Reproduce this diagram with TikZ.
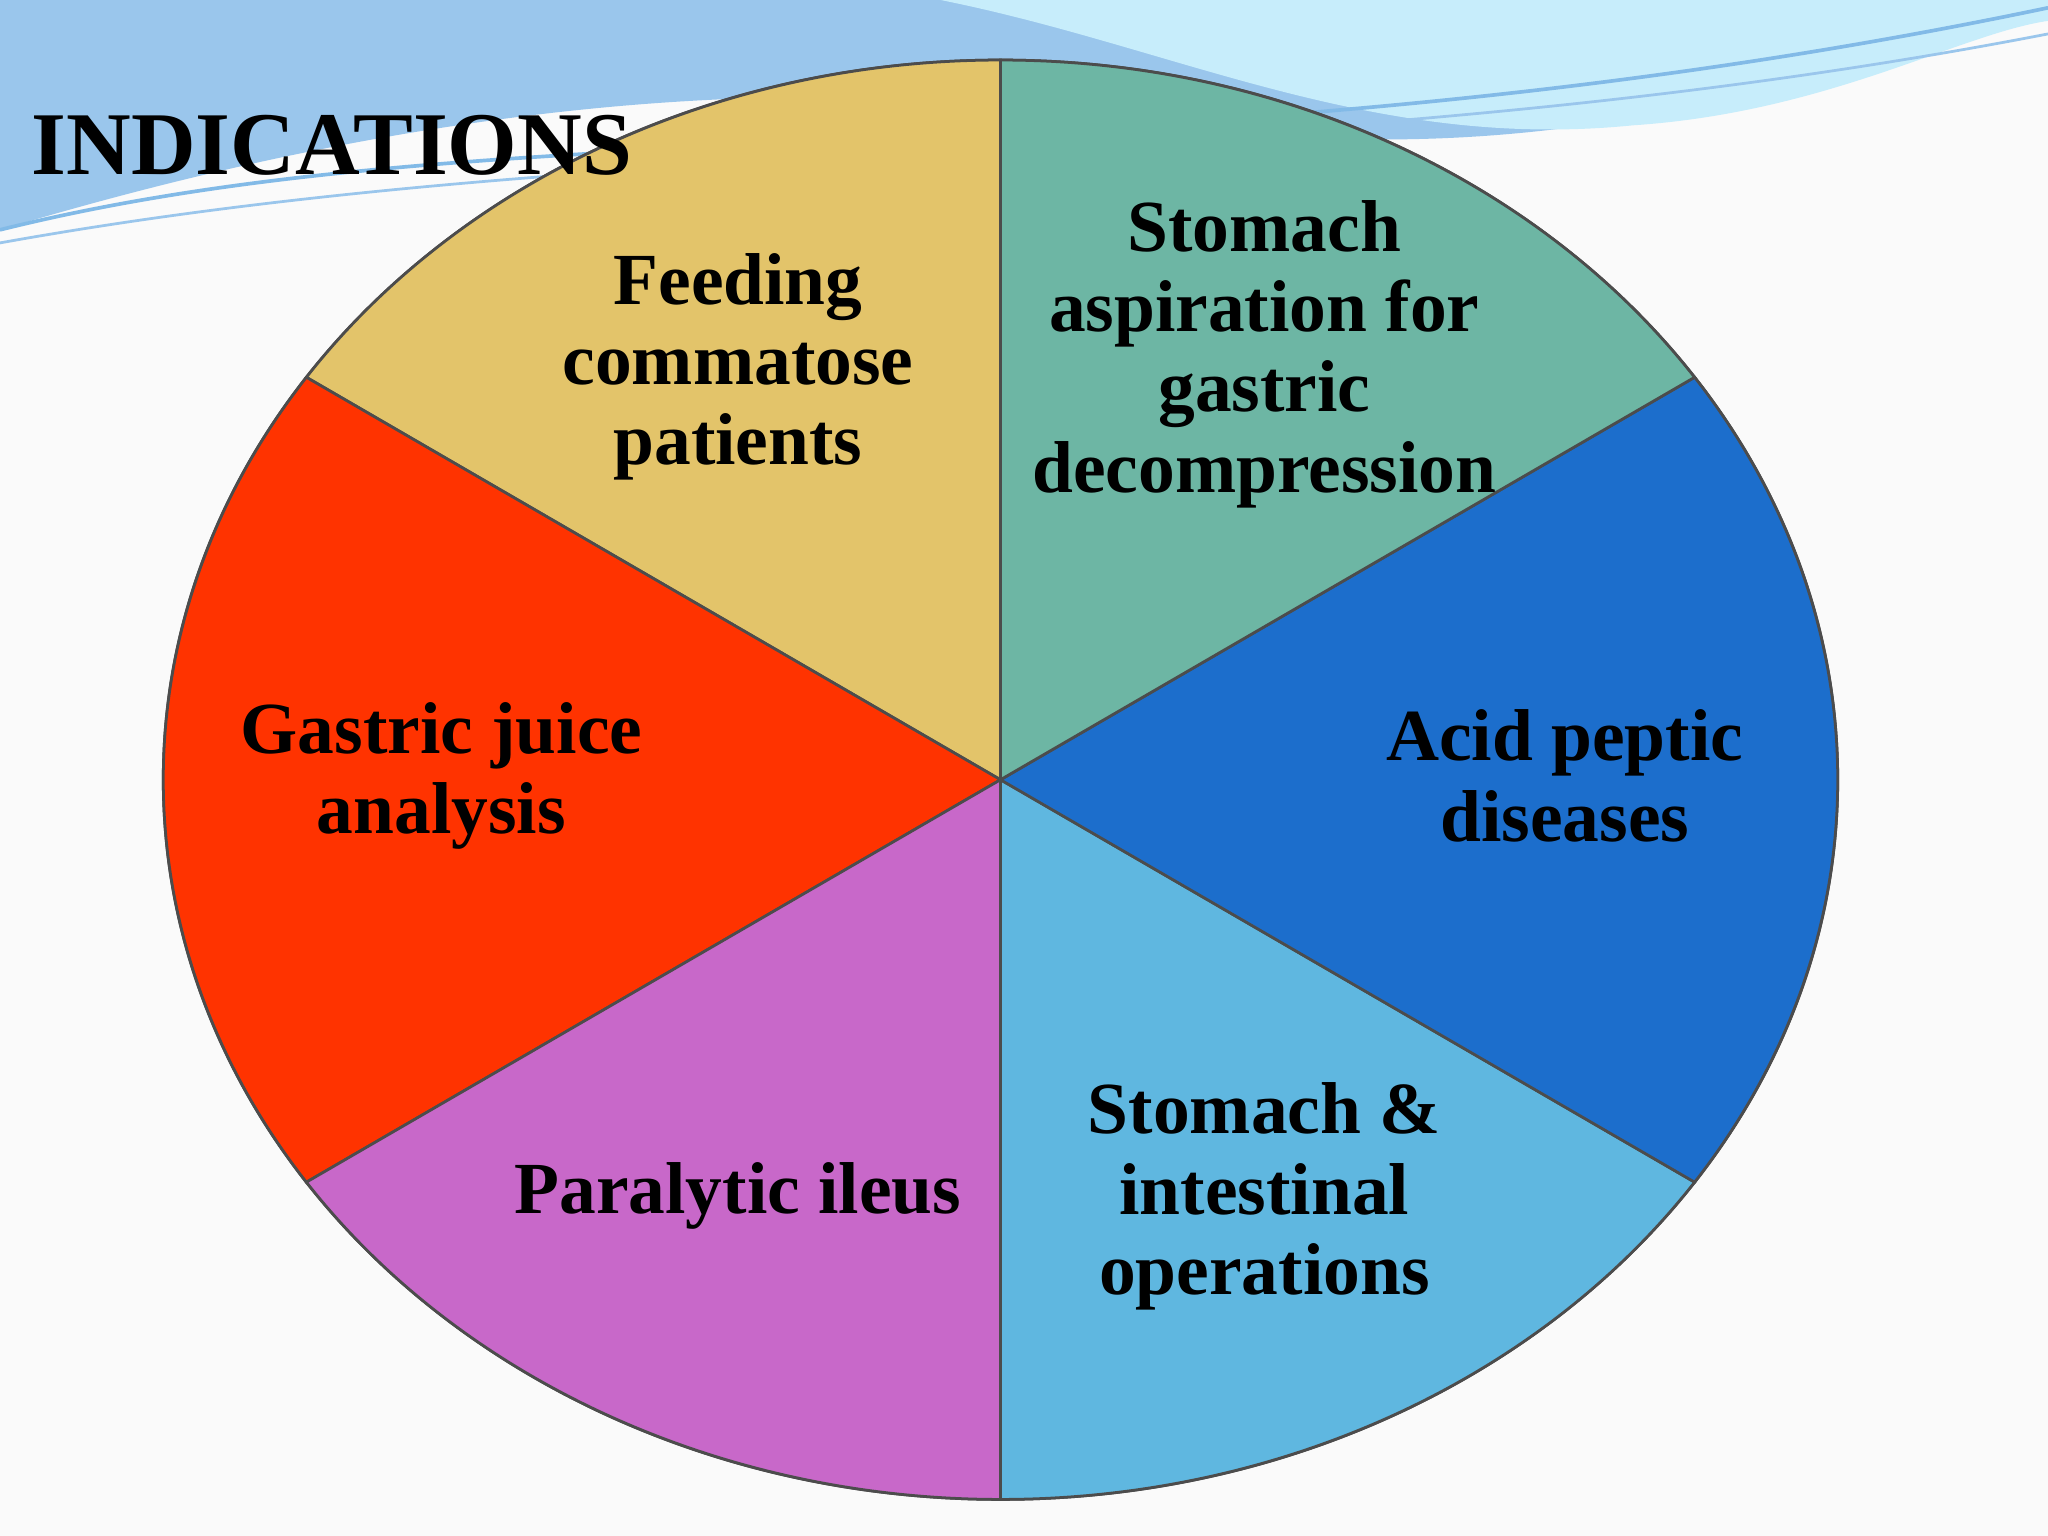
\documentclass[tikz,border=0pt]{standalone}
\usepackage{fontspec}
\setmainfont{Liberation Serif}
\begin{document}
\begin{tikzpicture}[x=1cm,y=1cm,
  lbl/.style={font=\bfseries\fontsize{16}{17.5}\selectfont, align=center, text=black},
  sl/.style={draw=black!70, line width=0.6pt}]
\useasboundingbox (0,0) rectangle (15.68,11.76);
\fill[white!96!gray] (0,0) rectangle (15.68,11.76);
% top waves
\fill[cyan!70!blue!40] (0,11.76) -- (0,10.0) .. controls (3,10.9) and (6,11.3) .. (9,10.8) .. controls (12,10.4) and (14,11.2) .. (15.68,11.76) -- cycle;
\fill[cyan!22!white] (7.2,11.76) .. controls (9,11.4) and (10.5,10.6) .. (12.5,10.8) .. controls (14,10.9) and (15,11.5) .. (15.68,11.6) -- (15.68,11.76) -- cycle;
\draw[cyan!70!blue!50, line width=0.8pt] (0,10.0) .. controls (4,11.0) and (9,10.3) .. (15.68,11.7);
\draw[cyan!70!blue!40, line width=0.6pt] (0,9.9) .. controls (5,10.8) and (10,10.4) .. (15.68,11.5);
\coordinate (c) at (7.66,5.79);
\def\rx{6.41}\def\ry{5.51}
\fill[sl, fill=white!96!gray] (c) ellipse ({\rx} and {\ry});
\filldraw[sl, fill={rgb,255:red,227;green,196;blue,106}] (c) -- ++(90:{\rx} and {\ry}) arc[start angle=90,end angle=146,x radius=\rx,y radius=\ry] -- cycle;
\filldraw[sl, fill={rgb,255:red,255;green,51;blue,0}] (c) -- ++(146:{\rx} and {\ry}) arc[start angle=146,end angle=214,x radius=\rx,y radius=\ry] -- cycle;
\filldraw[sl, fill={rgb,255:red,200;green,104;blue,201}] (c) -- ++(214:{\rx} and {\ry}) arc[start angle=214,end angle=270,x radius=\rx,y radius=\ry] -- cycle;
\filldraw[sl, fill={rgb,255:red,95;green,183;blue,224}] (c) -- ++(270:{\rx} and {\ry}) arc[start angle=270,end angle=326,x radius=\rx,y radius=\ry] -- cycle;
\filldraw[sl, fill={rgb,255:red,28;green,110;blue,204}] (c) -- ++(326:{\rx} and {\ry}) arc[start angle=326,end angle=394,x radius=\rx,y radius=\ry] -- cycle;
\begin{scope}[shift={(0.05,0.1)}]
\filldraw[sl, fill={rgb,255:red,102;green,179;blue,160}, fill opacity=0.95] (c) -- ++(34:{\rx} and {\ry}) arc[start angle=34,end angle=90,x radius=\rx,y radius=\ry] -- cycle;
\end{scope}
\node[font=\bfseries\fontsize{19.5}{22}\selectfont, anchor=west] (title) at (0.12,10.65) {INDICATIONS};
\node[lbl] (a) at (5.65,8.95) {Feeding\\commatose\\patients};
\node[lbl] (b) at (9.68,9.05) {Stomach\\aspiration for\\gastric\\decompression};
\node[lbl] (d) at (11.98,5.82) {Acid peptic\\diseases};
\node[lbl] (e) at (9.68,2.6) {Stomach \&\\intestinal\\operations};
\node[lbl] (f) at (5.65,2.6) {Paralytic ileus};
\node[lbl] (g) at (3.38,5.82) {Gastric juice\\analysis};
\end{tikzpicture}
\end{document}
